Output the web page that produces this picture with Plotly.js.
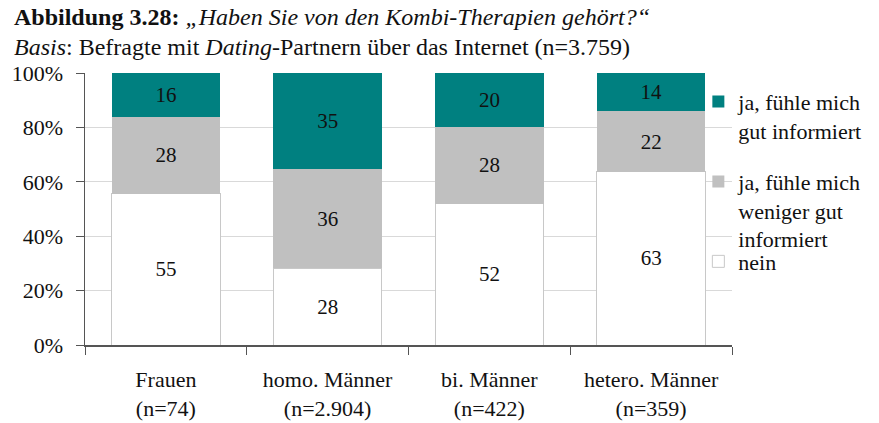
<!DOCTYPE html>
<html>
<head>
<meta charset="utf-8">
<script src="https://cdn.plot.ly/plotly-3.0.1.min.js"></script>
<style>html,body{margin:0;padding:0;background:#fff;}#chart{width:879px;height:423px;}</style>
</head>
<body>
<div id="chart"></div>
<script>
const categories = ["Frauen<br>(n=74)", "homo. Männer<br>(n=2.904)", "bi. Männer<br>(n=422)", "hetero. Männer<br>(n=359)"];
const nein = [55, 28, 52, 63];
const wenigerGut = [28, 36, 28, 22];
const gutInformiert = [16, 35, 20, 14];
const seriesNames = ["nein", "ja, fühle mich<br>weniger gut<br>informiert", "ja, fühle mich<br>gut informiert"];
const yTicks = [0, 20, 40, 60, 80, 100];
const titleLine1 = "<b>Abbildung 3.28:</b> <i>„Haben Sie von den Kombi-Therapien gehört?“</i>";
const titleLine2 = "<i>Basis</i>: Befragte mit <i>Dating</i>-Partnern über das Internet (n=3.759)";

const FONT = "'Liberation Serif', 'DejaVu Serif', serif";
function trace(vals, name, color, lineColor, lineWidth, legendId) {
  return {
    type: "bar", x: categories, y: vals, name: name, legend: legendId,
    text: vals.map(String), texttemplate: "%{text}",
    textposition: "inside", insidetextanchor: "middle",
    textfont: {family: FONT, size: 21, color: "#111"},
    marker: {color: color, line: {color: lineColor, width: lineWidth}},
    hoverinfo: "skip"
  };
}
const data = [
  trace(nein, seriesNames[0], "#ffffff", "#c8c8c8", 1, "legend3"),
  trace(wenigerGut, seriesNames[1], "#c0c0c0", "#c0c0c0", 0, "legend2"),
  trace(gutInformiert, seriesNames[2], "#008080", "#008080", 0, "legend")
];
function legendAt(y) {
  return {
    x: 0.948, xanchor: "left", y: y, yanchor: "top",
    font: {family: FONT, size: 22, color: "#111"},
    valign: "top", bgcolor: "rgba(0,0,0,0)", itemwidth: 30
  };
}
const layout = {
  width: 879, height: 423,
  margin: {l: 85, r: 142, t: 73, b: 78},
  paper_bgcolor: "#fff", plot_bgcolor: "#fff",
  barmode: "stack", barnorm: "percent", bargap: 0.33,
  font: {family: FONT, color: "#111"},
  showlegend: true,
  annotations: [
    {text: titleLine1, xref: "paper", yref: "paper", x: -74/652, y: (345-17)/272,
     xanchor: "left", yanchor: "middle", showarrow: false,
     font: {family: FONT, size: 24, color: "#111"}},
    {text: titleLine2, xref: "paper", yref: "paper", x: -74/652, y: (345-47)/272,
     xanchor: "left", yanchor: "middle", showarrow: false,
     font: {family: FONT, size: 24, color: "#111"}}
  ],
  xaxis: {
    type: "category", range: [-0.5, 3.5],
    tickson: "boundaries", ticks: "outside", ticklen: 8, tickcolor: "#555",
    showline: true, linecolor: "#555", linewidth: 1.5,
    showgrid: false, tickfont: {family: FONT, size: 22, color: "#111"},
    ticklabelstandoff: 14
  },
  yaxis: {
    range: [0, 100], tickvals: yTicks, ticktext: yTicks.map(v => v + "%"),
    ticks: "outside", ticklen: 8, tickcolor: "#555",
    showline: true, linecolor: "#555", linewidth: 1.5,
    showgrid: true, gridcolor: "#d9d9d9", gridwidth: 1,
    zeroline: false, tickfont: {family: FONT, size: 22, color: "#111"},
    ticklabelstandoff: 8
  },
  legend: legendAt(0.972),
  legend2: legendAt(0.678),
  legend3: legendAt(0.384)
};
Plotly.newPlot("chart", data, layout, {displayModeBar: false, staticPlot: true});
</script>
</body>
</html>
